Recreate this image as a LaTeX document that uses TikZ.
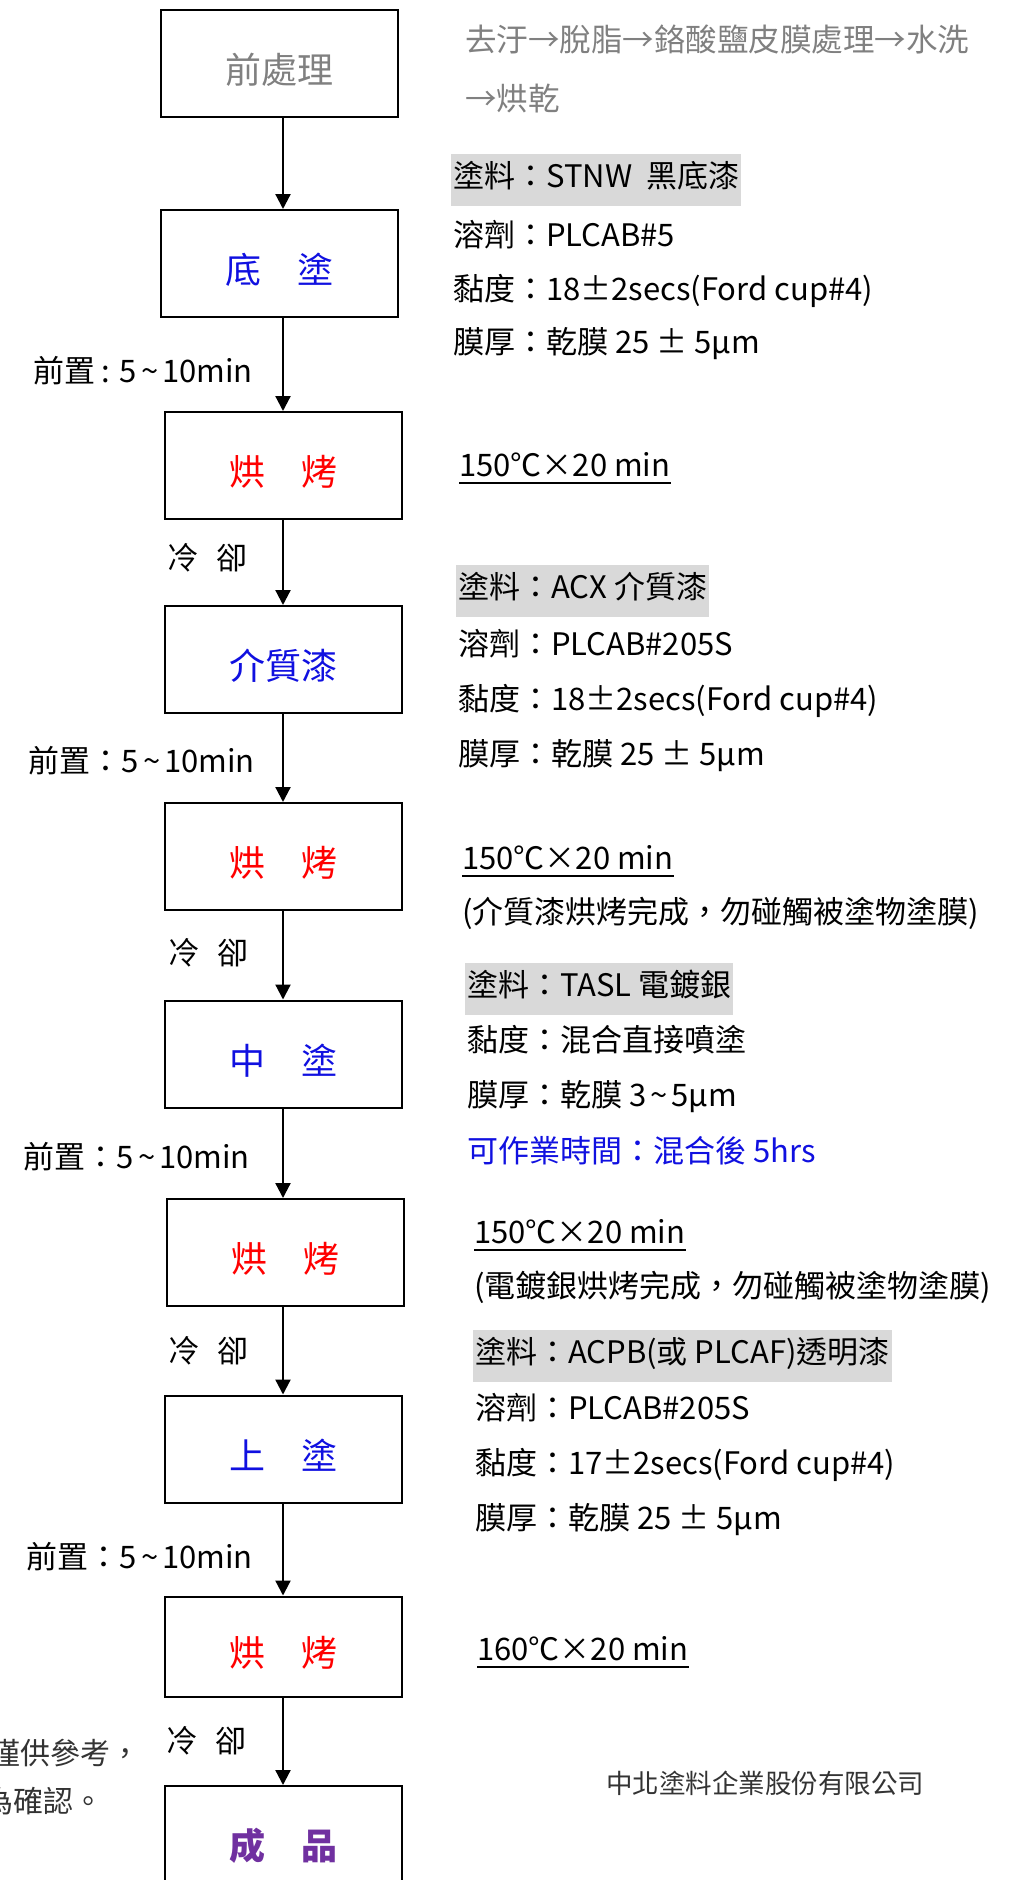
\documentclass[tikz,border=0pt]{standalone}
\usepackage{fontspec}
\setmainfont{Noto Sans CJK TC}
\usetikzlibrary{arrows.meta}
\definecolor{hilite}{HTML}{D9D9D9}
\definecolor{mygray}{HTML}{808080}
\definecolor{mypurple}{HTML}{7030A0}
\definecolor{myblue}{HTML}{1010E0}
\newcommand{\tld}{\hspace{4pt}\textasciitilde\hspace{4pt}}
\tikzstyle{box}=[draw,line width=2pt,minimum width=237pt,minimum height=107pt,inner sep=0pt,text height=40pt,text depth=0pt,font=\fontsize{36}{36}\selectfont]
\tikzstyle{flow}=[line width=2.2pt,-{Triangle[length=15pt,width=15pt]}]
\tikzstyle{note}=[anchor=west,inner sep=0pt,text height=21pt,text depth=7pt,font=\fontsize{31}{31}\selectfont]
\tikzstyle{hl}=[note,fill=hilite,inner ysep=12pt,inner xsep=2pt]
\tikzstyle{lbl}=[anchor=east,inner sep=0pt,font=\fontsize{31}{31}\selectfont]
\tikzstyle{uline}=[line width=2.5pt]

\begin{document}
\begin{tikzpicture}[x=1pt,y=-1pt]
\useasboundingbox (0,0) rectangle (1026,1880);
\coordinate (ax) at (283,0);
% process boxes
\node[box,text=mygray] (pre) at (279.5,63.5) {前處理};
\node[box,text=myblue] (di) at (279.5,263.5) {底　塗};
\node[box,text=red] (b1) at (283.5,465.5) {烘　烤};
\node[box,text=myblue] (jie) at (283.5,659.5) {介質漆};
\node[box,text=red] (b2) at (283,856.5) {烘　烤};
\node[box,text=myblue] (zh) at (283.5,1054) {中　塗};
\node[box,text=red] (b3) at (285.5,1252.5) {烘　烤};
\node[box,text=myblue] (sh) at (283.5,1449) {上　塗};
\node[box,text=red,minimum height=100pt] (b4) at (283,1646.5) {烘　烤};
\node[box,text=mypurple,font=\fontsize{36}{36}\selectfont\bfseries] (ok) at (283.5,1839.5) {成　品};
\foreach \a/\b in {pre/di,di/b1,b1/jie,jie/b2,b2/zh,zh/b3,b3/sh,sh/b4,b4/ok}
  \draw[flow] (\a.south -| ax) -- (\b.north -| ax);

% waiting / cooling
\node[lbl] (w1) at (253,371) {前置 : 5\tld10min};
\node[lbl] (c1) at (248,558) {冷\hspace{18pt}卻};
\node[lbl] (w2) at (255,761) {前置：5\tld10min};
\node[lbl] (c2) at (249,953) {冷\hspace{18pt}卻};
\node[lbl] (w3) at (250,1157) {前置：5\tld10min};
\node[lbl] (c3) at (249,1351) {冷\hspace{18pt}卻};
\node[lbl] (w4) at (253,1557) {前置：5\tld10min};
\node[lbl] (c4) at (247,1741) {冷\hspace{18pt}卻};

% notes on the right
\node[note,text=mygray,font=\fontsize{31.5}{31.5}\selectfont] (p1) at (465,44) {去汙→脫脂→鉻酸鹽皮膜處理→水洗};
\node[note,text=mygray,font=\fontsize{31.5}{31.5}\selectfont] (p2) at (465,103) {→烘乾};
\node[hl] (s1) at (451,180) {塗料：STNW~~黑底漆};
\node[note] (s2) at (453,239) {溶劑：PLCAB\#5};
\node[note] (s3) at (453,293) {黏度：18±2secs(Ford cup\#4)};
\node[note] (s4) at (453,346) {膜厚：乾膜 25 ± 5μm};
\node[note] (t1) at (459,469) {150℃×20 min};
\draw[uline] (t1.south west) -- (t1.south east);
\node[hl] (m1) at (456,591) {塗料：ACX 介質漆};
\node[note] (m2) at (458,648) {溶劑：PLCAB\#205S};
\node[note] (m3) at (458,703) {黏度：18±2secs(Ford cup\#4)};
\node[note] (m4) at (458,758) {膜厚：乾膜 25 ± 5μm};
\node[note] (t2) at (462,862) {150℃×20 min};
\draw[uline] (t2.south west) -- (t2.south east);
\node[note] (r2) at (462,916) {(介質漆烘烤完成，勿碰觸被塗物塗膜)};
\node[hl] (z1) at (465,989) {塗料：TASL 電鍍銀};
\node[note] (z2) at (467,1044) {黏度：混合直接噴塗};
\node[note] (z3) at (467,1099) {膜厚：乾膜 3\tld5μm};
\node[note,text=myblue] (z4) at (467,1155) {可作業時間：混合後 5hrs};
\node[note] (t3) at (474,1236) {150℃×20 min};
\draw[uline] (t3.south west) -- (t3.south east);
\node[note] (r3) at (474,1290) {(電鍍銀烘烤完成，勿碰觸被塗物塗膜)};
\node[hl] (u1) at (473,1356) {塗料：ACPB(或 PLCAF)透明漆};
\node[note] (u2) at (475,1412) {溶劑：PLCAB\#205S};
\node[note] (u3) at (475,1467) {黏度：17±2secs(Ford cup\#4)};
\node[note] (u4) at (475,1522) {膜厚：乾膜 25 ± 5μm};
\node[note] (t4) at (477,1653) {160℃×20 min};
\draw[uline] (t4.south west) -- (t4.south east);

\node[note,text=black!80,font=\fontsize{30}{30}\selectfont] (n1) at (-10,1757) {僅供參考，};
\node[note,text=black!80,font=\fontsize{30}{30}\selectfont] (n2) at (-17,1805) {為確認。};
\node[note,text=black!80,font=\fontsize{26.5}{26.5}\selectfont] (co) at (606,1786) {中北塗料企業股份有限公司};
\end{tikzpicture}
\end{document}
